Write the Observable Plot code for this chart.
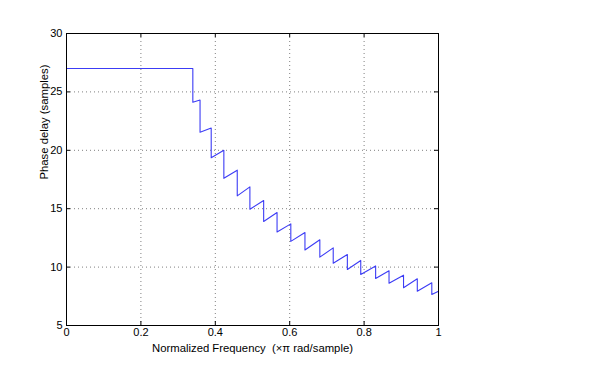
<!DOCTYPE html>
<html>
<head>
<meta charset="utf-8">
<script src="https://cdn.jsdelivr.net/npm/d3@7"></script>
<script src="https://cdn.jsdelivr.net/npm/@observablehq/plot@0.6"></script>
<style>
  html, body { margin: 0; padding: 0; background: white; }
</style>
</head>
<body>
<div id="chart"></div>
<script>
// Normalized frequency (x pi rad/sample) of each vertex of the phase-delay curve
const freq = [0, 0.3396, 0.3396, 0.359, 0.359, 0.389, 0.389, 0.423, 0.423, 0.459, 0.459,
  0.493, 0.493, 0.530, 0.530, 0.566, 0.566, 0.603, 0.603, 0.641, 0.641, 0.681, 0.681,
  0.717, 0.717, 0.755, 0.755, 0.791, 0.791, 0.831, 0.831, 0.867, 0.867, 0.906, 0.906,
  0.943, 0.943, 0.982, 0.982, 1.0];
// Phase delay (samples)
const delay = [27, 27, 24.12, 24.3, 21.55, 21.9, 19.36, 20.0, 17.6, 18.3, 16.1,
  16.87, 14.95, 15.7, 13.9, 14.67, 13.0, 13.7, 12.2, 12.96, 11.47, 12.34, 10.85,
  11.65, 10.33, 11.08, 9.79, 10.57, 9.37, 10.1, 9.02, 9.68, 8.62, 9.31, 8.23,
  9.0, 7.94, 8.66, 7.65, 7.94];

const xTicks = [0, 0.2, 0.4, 0.6, 0.8, 1];
const yTicks = [5, 10, 15, 20, 25, 30];
const xLabel = "Normalized Frequency  (\u00d7\u03c0 rad/sample)";
const yLabel = "Phase delay (samples)";

const data = freq.map((f, i) => ({f, d: delay[i]}));

const W = 603, H = 368, mL = 66, mR = 165, mT = 33, mB = 43;
const plotW = W - mL - mR, plotH = H - mT - mB;
const tickLen = 4;

const chart = Plot.plot({
  width: W,
  height: H,
  marginLeft: mL,
  marginRight: mR,
  marginTop: mT,
  marginBottom: mB,
  style: {fontFamily: "'Liberation Sans', Arial, Helvetica, sans-serif", fontSize: "11px", background: "white", color: "black"},
  x: {domain: [0, 1], ticks: xTicks, tickSize: 0, tickPadding: 3, label: null, tickFormat: d => String(d)},
  y: {domain: [5, 30], ticks: yTicks, tickSize: 0, tickPadding: 4, label: null, tickFormat: d => String(d)},
  marks: [
    Plot.ruleX(xTicks.slice(1, -1), {x: d => d, stroke: "#808080", strokeDasharray: "1,3", strokeWidth: 1}),
    Plot.ruleY(yTicks.slice(1, -1), {y: d => d, stroke: "#808080", strokeDasharray: "1,3", strokeWidth: 1}),
    Plot.line(data, {x: "f", y: "d", stroke: "#3c3cf5", strokeWidth: 1.1}),
    Plot.tickX(xTicks, {x: d => d, stroke: "black", insetTop: plotH - tickLen}),
    Plot.tickX(xTicks, {x: d => d, stroke: "black", insetBottom: plotH - tickLen}),
    Plot.tickY(yTicks, {y: d => d, stroke: "black", insetRight: plotW - tickLen}),
    Plot.tickY(yTicks, {y: d => d, stroke: "black", insetLeft: plotW - tickLen}),
    Plot.frame({stroke: "black", strokeWidth: 1}),
    Plot.text([xLabel], {text: d => d, frameAnchor: "bottom", dy: 26, fontSize: 11.3, fill: "black"}),
    Plot.text([yLabel], {text: d => d, frameAnchor: "left", rotate: -90, dx: -22, fontSize: 11.3, fill: "black"})
  ]
});
document.getElementById("chart").appendChild(chart);
</script>
</body>
</html>
